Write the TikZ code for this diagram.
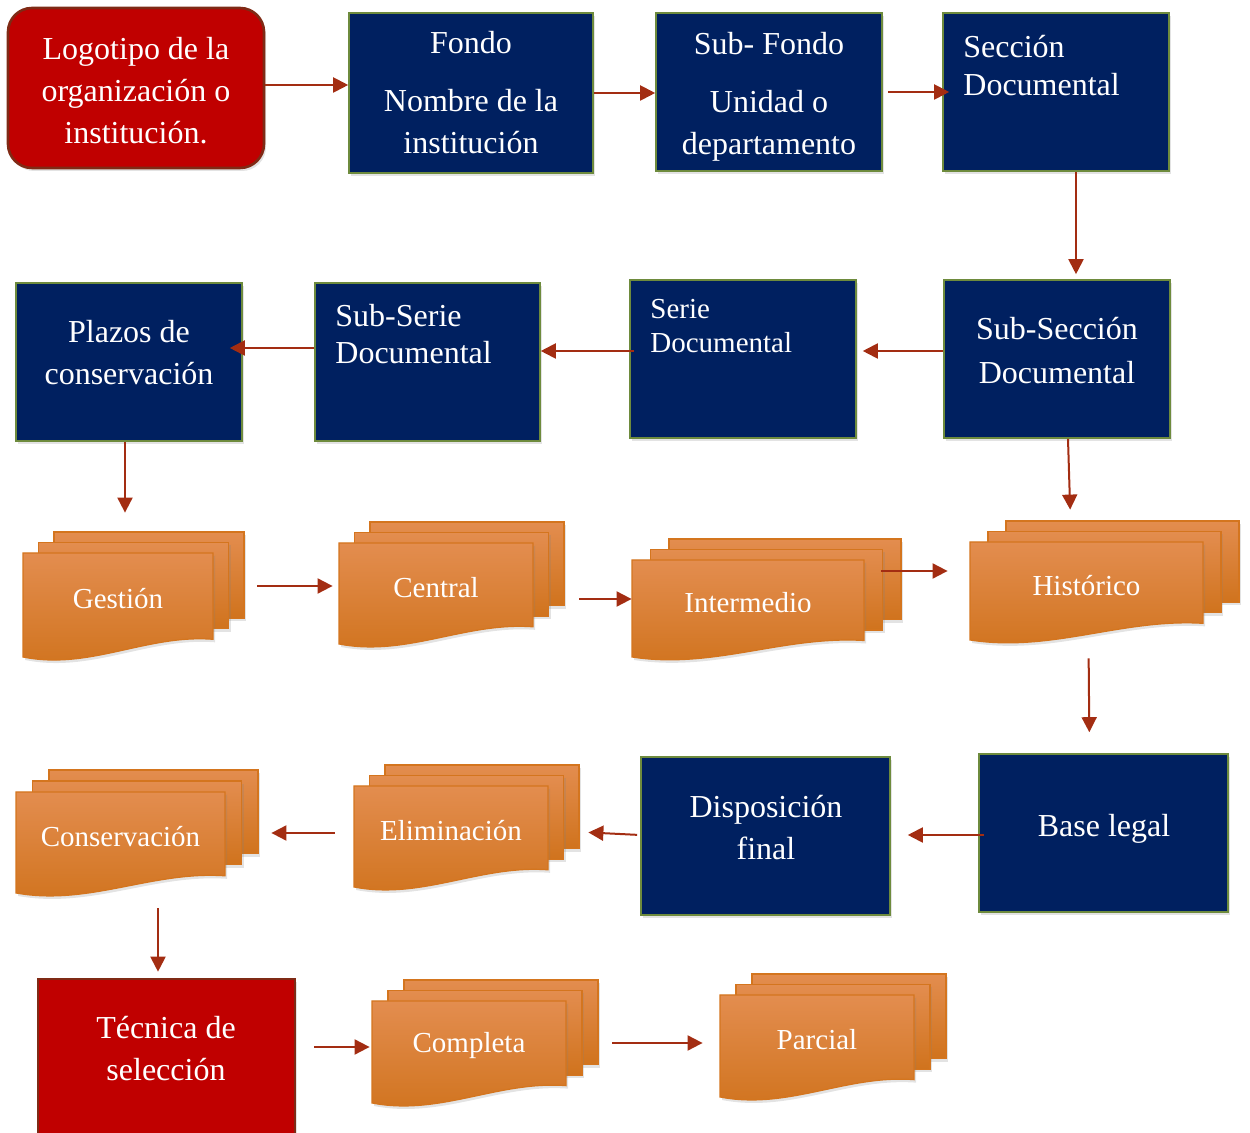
\documentclass[tikz,border=0pt]{standalone}
\usepackage{fontspec}
\setmainfont{Liberation Serif}
\usetikzlibrary{arrows.meta,shadows}

\definecolor{navy}{HTML}{002060}
\definecolor{olivebd}{HTML}{6E8B3D}
\definecolor{boxred}{HTML}{C00000}
\definecolor{redbd}{HTML}{7F2A15}
\definecolor{arrowred}{HTML}{A32D12}
\definecolor{orangetop}{HTML}{E38D4F}
\definecolor{orangebot}{HTML}{D0731D}
\definecolor{orangebd}{HTML}{D4751E}

\tikzset{
  softshadow/.style={drop shadow={opacity=0.22, shadow xshift=1pt, shadow yshift=-1.5pt}},
  navybox/.style={draw=olivebd, line width=0.8pt, fill=navy, softshadow, inner sep=0},
  redbox/.style={draw=redbd, line width=1.3pt, fill=boxred, softshadow, inner sep=0},
  wtext/.style={text=white, font=\fontsize{16}{21}\selectfont, align=center, inner sep=0},
  doctext/.style={text=white, font=\fontsize{14.5}{17}\selectfont, inner sep=0},
  sheet/.style={draw=orangebd, line width=0.6pt, top color=orangetop, bottom color=orangebot, softshadow},
  arr/.style={draw=arrowred, line width=1pt, -{Triangle[length=7.5pt,width=7.5pt]}},
}

% stacked document symbol: name, left, top, width, height, x offset, y offset, label
\newcommand\multidoc[8]{%
  \pgfmathsetmacro\mdW{#4+2*#6}%
  \pgfmathsetmacro\mdH{#5+2*#7}%
  \pgfmathsetmacro\mdCx{#2+\mdW/2}%
  \pgfmathsetmacro\mdCy{#3-2*#7+\mdH/2}%
  \path[sheet] ({#2+2*#6},{#3-2*#7}) rectangle ++(#4,{0.83*#5});
  \path[sheet] ({#2+#6},{#3-#7}) rectangle ++(#4,{0.83*#5});
  \path[sheet] (#2,#3) -- ++(#4,0) -- ++(0,{0.83*#5})
    .. controls ({#2+0.65*#4},{#3+0.78*#5}) and ({#2+0.35*#4},{#3+1.13*#5}) .. (#2,{#3+#5}) -- cycle;
  \node[doctext] (#1-t) at ({#2+0.5*#4},{#3+0.44*#5}) {#8};
  \node[inner sep=0, minimum width=\mdW*0.5pt, minimum height=\mdH*0.5pt] (#1) at (\mdCx,\mdCy) {};
}

\begin{document}
\begin{tikzpicture}[x=0.5pt, y=-0.5pt]
\useasboundingbox (0,0) rectangle (1250,1133);
\clip (0,0) rectangle (1250,1133);

% ---- first row
\node[redbox, rounded corners=12pt, minimum width=128pt, minimum height=80pt] (logo) at (136,88) {};
\node[wtext] (logo-t) at (136,91) {Logotipo de la\\organización o\\institución.};
\node[navybox, minimum width=122pt, minimum height=80pt, wtext] (fondo) at (471,93)
  {Fondo\\[8pt]Nombre de la\\institución};
\node[navybox, minimum width=113pt, minimum height=79pt] (subfondo) at (769,92) {};
\node[wtext] (subfondo-t) at (769,97) {Sub- Fondo\\[8pt]Unidad o\\departamento};
\node[navybox, minimum width=113pt, minimum height=79pt] (seccion) at (1056,92) {};
\node[wtext, align=left, anchor=west, font=\fontsize{16}{19}\selectfont] (seccion-t) at (963,66) {Sección\\Documental};

% ---- second row
\node[navybox, minimum width=113pt, minimum height=79pt] (subseccion) at (1057,359) {};
\node[wtext, font=\fontsize{16}{22}\selectfont] (subseccion-t) at (1057,351) {Sub-Sección\\Documental};
\node[navybox, minimum width=113pt, minimum height=79pt] (serie) at (743,359) {};
\node[wtext, align=left, anchor=west, font=\fontsize{14.5}{17}\selectfont] (serie-t) at (650,326) {Serie\\Documental};
\node[navybox, minimum width=112.5pt, minimum height=79pt] (subserie) at (427.5,362) {};
\node[wtext, align=left, anchor=west, font=\fontsize{16}{18.5}\selectfont] (subserie-t) at (335,334) {Sub-Serie\\Documental};
\node[navybox, minimum width=113pt, minimum height=79pt] (plazos) at (129,362) {};
\node[wtext] (plazos-t) at (129,353) {Plazos de\\conservación};

% ---- third row
\multidoc{gestion}{23}{553}{190}{104}{15.5}{10.5}{Gestión}
\multidoc{central}{339}{543}{194}{101}{15.5}{10.5}{Central}
\multidoc{intermedio}{632}{560}{232}{97}{18.5}{10.5}{Intermedio}
\multidoc{historico}{970}{542}{233}{98}{18}{10.5}{Histórico}

% ---- fourth row
\node[navybox, minimum width=124.5pt, minimum height=79pt] (base) at (1103.5,833) {};
\node[wtext] (base-t) at (1104,829) {Base legal};
\node[navybox, minimum width=124.5pt, minimum height=79pt] (disp) at (765.5,836) {};
\node[wtext] (disp-t) at (766,828) {Disposición\\final};
\multidoc{elim}{354}{786}{194}{101}{15.5}{10.5}{Eliminación}
\multidoc{conserv}{16}{792}{209}{101}{16.5}{11}{Conservación}

% ---- fifth row
\node[redbox, minimum width=128.5pt, minimum height=80.5pt] (tecnica) at (166.5,1059.5) {};
\node[wtext] (tecnica-t) at (166,1049) {Técnica de\\selección};
\multidoc{completa}{372}{1001}{194}{102}{16}{10.5}{Completa}
\multidoc{parcial}{720}{995}{194}{102}{16}{10.5}{Parcial}

% ---- connectors
\draw[arr] ([yshift=1.5pt]logo.east) -- ([yshift=1.5pt]logo.east -| fondo.west);
\draw[arr] (fondo.east) -- (fondo.east -| subfondo.west);
\draw[arr, shorten <=2.5pt, shorten >=-3.5pt] (subfondo.east) -- (subfondo.east -| seccion.west);
\draw[arr, shorten >=2.5pt] ([xshift=10pt]seccion.south) -- ([xshift=10pt]seccion.south |- subseccion.north);
\draw[arr, shorten >=3pt] ([yshift=4pt]subseccion.west) -- ([yshift=4pt]subseccion.west -| serie.east);
\draw[arr, shorten <=-2.5pt] ([yshift=4pt]serie.west) -- ([yshift=4pt]serie.west -| subserie.east);
\draw[arr, shorten >=-6.5pt] ([yshift=7pt]subserie.west) -- ([yshift=7pt]subserie.west -| plazos.east);
\draw[arr, shorten >=9.5pt] ([xshift=-2pt]plazos.south) -- ([xshift=-2pt]plazos.south |- gestion.north);
\draw[arr, shorten >=5.5pt] ([xshift=5.5pt]subseccion.south) -- ([xshift=-17pt]historico.north);
\draw[arr, shorten <=6.5pt, shorten >=3pt] ([yshift=4.25pt]gestion.east) -- ([yshift=4.25pt]gestion.east -| central.west);
\draw[arr, shorten <=7.5pt] ([yshift=-8pt]central.east) -- ([yshift=-8pt]central.east -| intermedio.west);
\draw[arr, shorten <=-10pt, shorten >=11pt] ([yshift=13.5pt]intermedio.east) -- ([yshift=13.5pt]intermedio.east -| historico.west);
\draw[arr, shorten <=9pt, shorten >=10.5pt] ([xshift=-8pt]historico.south) -- ([xshift=-7pt]base.north);
\draw[arr, shorten <=-3pt, shorten >=8.5pt] ([yshift=-1pt]base.west) -- ([yshift=-1pt]base.west -| disp.east);
\draw[arr, shorten <=1.5pt, shorten >=4.5pt] ([yshift=0.5pt]disp.west) -- ([yshift=-3pt]elim.east);
\draw[arr, shorten <=9.5pt, shorten >=6.5pt] ([yshift=-3.5pt]elim.west) -- ([yshift=-3.5pt]elim.west -| conserv.east);
\draw[arr, shorten <=7.5pt, shorten >=3pt] ([xshift=10.5pt]conserv.south) -- ([xshift=10.5pt]conserv.south |- tecnica.north);
\draw[arr, shorten <=9pt, shorten >=1pt] ([yshift=6.25pt]tecnica.east) -- ([yshift=6.25pt]tecnica.east -| completa.west);
\draw[arr, shorten <=7pt, shorten >=8.5pt] ([yshift=-0.75pt]completa.east) -- ([yshift=-0.75pt]completa.east -| parcial.west);
\end{tikzpicture}
\end{document}
